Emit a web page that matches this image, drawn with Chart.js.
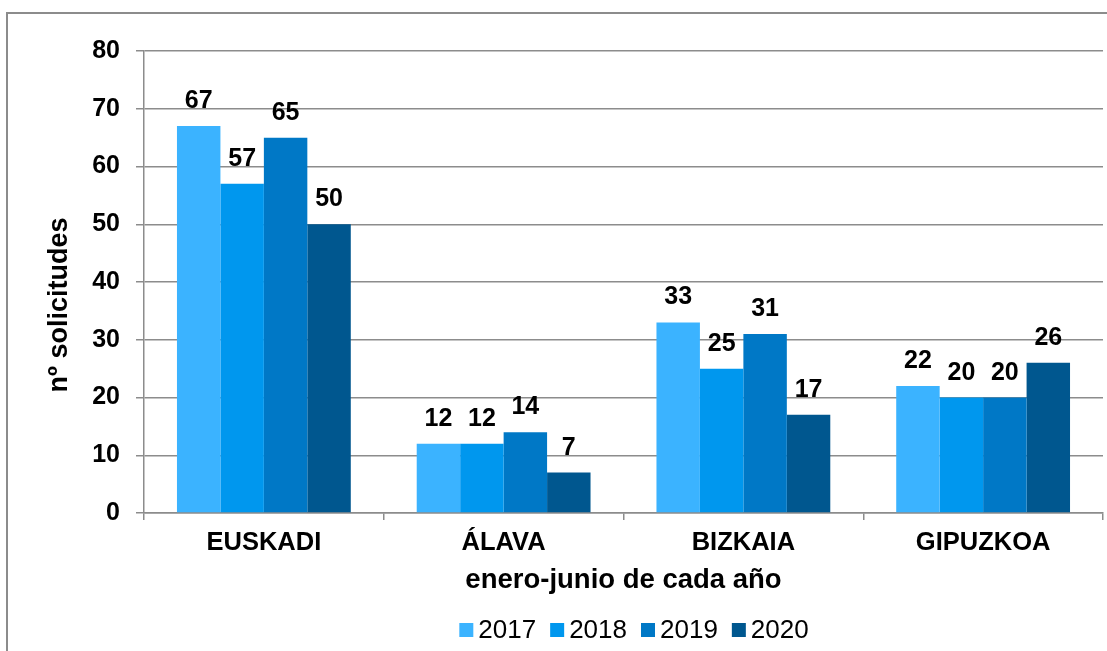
<!DOCTYPE html>
<html>
<head>
<meta charset="utf-8">
<title>Solicitudes enero-junio</title>
<script src="https://cdn.jsdelivr.net/npm/chart.js@4"></script>
<style>
  html, body { margin: 0; padding: 0; background: #fff; }
  #chart { display: block; }
</style>
</head>
<body>
<canvas id="chart" width="1107" height="651"></canvas>
<script>
// data
var categories = ['EUSKADI', 'ÁLAVA', 'BIZKAIA', 'GIPUZKOA'];
var years = ['2017', '2018', '2019', '2020'];
var values2017 = [67, 12, 33, 22];
var values2018 = [57, 12, 25, 20];
var values2019 = [65, 14, 31, 20];
var values2020 = [50, 7, 17, 26];
var yTicks = [0, 10, 20, 30, 40, 50, 60, 70, 80];
var yTitle = 'nº solicitudes';

var colors = ['#3bb3ff', '#0097ee', '#0078c6', '#00578f'];
var gridColor = '#8c8c8c';
var fontFamily = '"Liberation Sans", Arial, sans-serif';

// outer frame of the picture (runs off the right and bottom edge)
const framePlugin = {
    id: 'frame',
    beforeDraw: (chart) => {
        const ctx = chart.ctx;
        ctx.save();
        ctx.fillStyle = '#fff';
        ctx.fillRect(0, 0, chart.width, chart.height);
        ctx.strokeStyle = gridColor;
        ctx.lineWidth = 2;
        ctx.strokeRect(7, 13, chart.width + 20, chart.height + 20);
        ctx.restore();
    }
};

// value labels above each bar
const valueLabels = {
    id: 'valueLabels',
    afterDatasetsDraw: (chart) => {
        const ctx = chart.ctx;
        ctx.save();
        ctx.font = 'bold 25px ' + fontFamily;
        ctx.fillStyle = '#000';
        ctx.textAlign = 'center';
        ctx.textBaseline = 'alphabetic';
        chart.data.datasets.forEach((ds, i) => {
            const meta = chart.getDatasetMeta(i);
            meta.data.forEach((bar, j) => {
                ctx.fillText(String(ds.data[j]), bar.x, bar.y - 18);
            });
        });
        ctx.restore();
    }
};

// y title sits a bit lower than the plot centre in the original
const yTitlePlugin = {
    id: 'yTitle',
    afterDraw: (chart) => {
        const ctx = chart.ctx;
        ctx.save();
        ctx.font = 'bold 27px ' + fontFamily;
        ctx.fillStyle = '#000';
        ctx.textAlign = 'center';
        ctx.textBaseline = 'middle';
        ctx.translate(60, 305);
        ctx.rotate(-Math.PI / 2);
        ctx.fillText(yTitle, 0, 0);
        ctx.restore();
    }
};

// legend under the chart, centred like the original
const bottomLegend = {
    id: 'bottomLegend',
    afterDraw: (chart) => {
        const ctx = chart.ctx;
        const box = 14, gap = 5, spacing = 14;
        ctx.save();
        ctx.font = '26px ' + fontFamily;
        ctx.textBaseline = 'middle';
        ctx.textAlign = 'left';
        const items = chart.data.datasets.map(ds => ({
            text: ds.label, color: ds.backgroundColor,
            w: box + gap + ctx.measureText(ds.label).width
        }));
        const total = items.reduce((s, it) => s + it.w, 0) + spacing * (items.length - 1);
        let x = 634 - total / 2;
        const cy = 630;
        items.forEach(it => {
            ctx.fillStyle = it.color;
            ctx.fillRect(x, cy - box / 2, box, box);
            ctx.fillStyle = '#000';
            ctx.fillText(it.text, x + box + gap, cy + 1);
            x += it.w + spacing;
        });
        ctx.restore();
    }
};

const seriesValues = [values2017, values2018, values2019, values2020];

new Chart(document.getElementById('chart'), {
    type: 'bar',
    data: {
        labels: categories,
        datasets: years.map((y, i) => ({
            label: y,
            data: seriesValues[i],
            backgroundColor: colors[i],
            borderWidth: 0,
            barPercentage: 1.0,
            categoryPercentage: 0.725
        }))
    },
    options: {
        responsive: false,
        animation: false,
        devicePixelRatio: 1,
        layout: { padding: { left: 40, right: 4, top: 51, bottom: 51 } },
        plugins: {
            legend: { display: false },
            tooltip: { enabled: false }
        },
        scales: {
            x: {
                grid: {
                    offset: true,
                    drawOnChartArea: false,
                    drawTicks: true,
                    tickLength: 7,
                    color: gridColor,
                    lineWidth: 1.5
                },
                border: { color: gridColor, width: 1.5 },
                ticks: {
                    color: '#000',
                    font: { family: fontFamily, size: 25.5, weight: 'bold' },
                    padding: 8
                },
                title: {
                    display: true,
                    text: 'enero-junio de cada año',
                    color: '#000',
                    font: { family: fontFamily, size: 27.5, weight: 'bold' },
                    padding: { top: 0, bottom: 3 }
                },
                afterFit: (scale) => { scale.height = 87; }
            },
            y: {
                min: 0,
                max: 80,
                afterBuildTicks: (scale) => {
                    scale.ticks = yTicks.map(v => ({ value: v }));
                },
                grid: {
                    color: gridColor,
                    lineWidth: 1.5,
                    drawTicks: true,
                    tickLength: 8
                },
                border: { color: gridColor, width: 1.5 },
                ticks: {
                    color: '#000',
                    font: { family: fontFamily, size: 25, weight: 'bold' },
                    padding: 16
                },
                afterFit: (scale) => { scale.width = 104; }
            }
        }
    },
    plugins: [framePlugin, valueLabels, yTitlePlugin, bottomLegend]
});
</script>
</body>
</html>
